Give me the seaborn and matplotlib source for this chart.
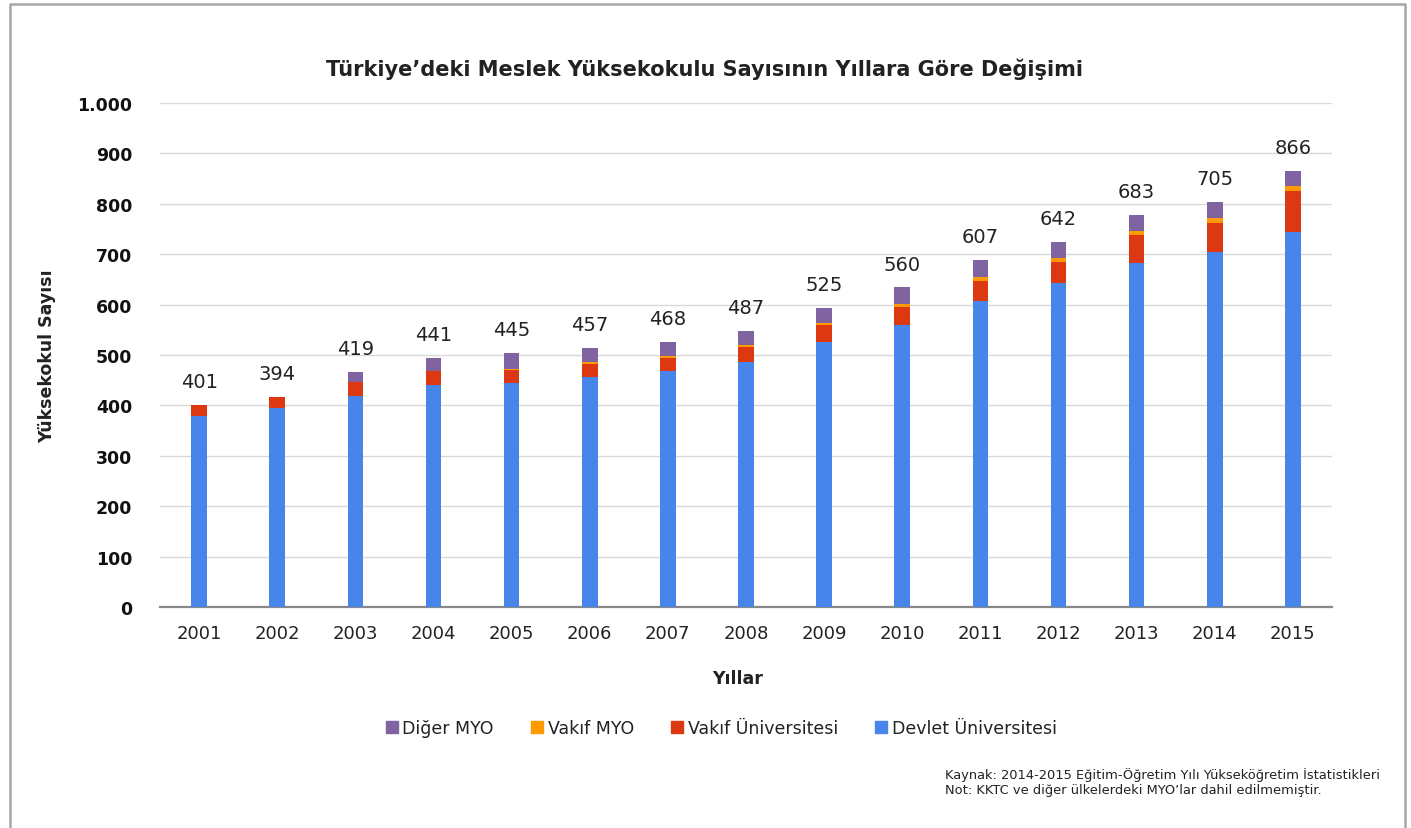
import numpy as np
import pandas as pd
import matplotlib
matplotlib.use("Agg")
import matplotlib.pyplot as plt
import seaborn as sns
from matplotlib.lines import Line2D
from matplotlib.ticker import FuncFormatter

# values
years = ["2001", "2002", "2003", "2004", "2005", "2006", "2007", "2008",
         "2009", "2010", "2011", "2012", "2013", "2014", "2015"]
devlet_uni = [379, 394, 419, 441, 445, 457, 468, 487, 525, 560, 607, 642, 683, 705, 744]
vakif_uni = [22, 23, 28, 27, 25, 25, 26, 29, 34, 36, 40, 42, 55, 57, 82]
vakif_myo = [0, 0, 0, 1, 3, 4, 4, 3, 4, 6, 8, 9, 8, 9, 9]
diger_myo = [0, 0, 20, 25, 31, 28, 28, 28, 31, 32, 33, 32, 32, 32, 31]
bar_labels = [401, 394, 419, 441, 445, 457, 468, 487, 525, 560, 607, 642, 683, 705, 866]

series = ["Diğer MYO", "Vakıf MYO", "Vakıf Üniversitesi", "Devlet Üniversitesi"]
colors = {"Devlet Üniversitesi": "#4785EA",
          "Vakıf Üniversitesi": "#DC3912",
          "Vakıf MYO": "#FF9900",
          "Diğer MYO": "#8064A2"}

df = pd.DataFrame({"Yıl": years,
                   "Devlet Üniversitesi": devlet_uni,
                   "Vakıf Üniversitesi": vakif_uni,
                   "Vakıf MYO": vakif_myo,
                   "Diğer MYO": diger_myo})
# cumulative heights for stacking (bottom to top)
stack_order = ["Devlet Üniversitesi", "Vakıf Üniversitesi", "Vakıf MYO", "Diğer MYO"]
cum = df[stack_order].cumsum(axis=1)

sns.set_theme(style="white")
plt.rcParams['font.family'] = ['DejaVu Sans']

fig = plt.figure(figsize=(14.11, 8.29), dpi=100)
ax = fig.add_axes([160 / 1411, 1 - 608 / 829, (1332 - 160) / 1411, (608 - 104) / 829])

# draw tallest first so lower segments overlay
for name in series:
    sns.barplot(x=df["Yıl"], y=cum[name], color=colors[name], width=0.2,
                saturation=1, linewidth=0, ax=ax, zorder=3)

totals = cum["Diğer MYO"].values
for i, (t, lab) in enumerate(zip(totals, bar_labels)):
    ax.annotate(str(lab), (i, t), xytext=(0, 10), textcoords="offset points",
                ha="center", va="bottom", fontsize=14, color="#222222")

ax.set_ylim(0, 1000)
ax.set_xlim(-0.5, len(years) - 0.5)
ax.set_yticks(np.arange(0, 1001, 100))
ax.yaxis.set_major_formatter(FuncFormatter(lambda v, p: f"{int(v):,}".replace(",", ".")))
ax.tick_params(axis="y", length=0, pad=20, labelsize=12.5, labelcolor="#111111")
for t in ax.get_yticklabels():
    t.set_fontweight("bold")
ax.grid(axis="y", color="#d9d9d9", linewidth=1, zorder=0)
ax.set_axisbelow(True)

# category boundary ticks, labels centred under bars
ax.set_xticks(np.arange(-0.5, len(years), 1.0))
ax.set_xticklabels([])
ax.set_xticks(np.arange(len(years)), minor=True)
ax.set_xticklabels(years, minor=True)
ax.tick_params(axis="x", which="major", length=7, width=1.2, color="#888888", direction="out")
ax.tick_params(axis="x", which="minor", length=0, pad=12, labelsize=13, labelcolor="#222222")
ax.set_xlabel("")
ax.set_ylabel("")

for s in ["top", "right", "left"]:
    ax.spines[s].set_visible(False)
ax.spines["bottom"].set_color("#888888")
ax.spines["bottom"].set_linewidth(1.6)

fig.text(705 / 1411, 1 - 69 / 829, "Türkiye’deki Meslek Yüksekokulu Sayısının Yıllara Göre Değişimi",
         ha="center", va="center", fontsize=15, fontweight="bold", color="#222222")
fig.text(738 / 1411, 1 - 679 / 829, "Yıllar", ha="center", va="center",
         fontsize=12.5, fontweight="bold", color="#222222")
fig.text(47 / 1411, 1 - 356 / 829, "Yüksekokul Sayısı", ha="center", va="center",
         rotation=90, fontsize=12.5, fontweight="bold", color="#222222")

handles = [Line2D([0], [0], marker="s", linestyle="none", markersize=9,
                  markerfacecolor=colors[n], markeredgecolor=colors[n]) for n in series]
fig.legend(handles, series, loc="center", bbox_to_anchor=(720 / 1411, 1 - 729 / 829),
           ncol=4, frameon=False, fontsize=12.5, handletextpad=0.1, columnspacing=2.0,
           handlelength=1.0, labelcolor="#222222")

fig.text(945 / 1411, 1 - 775 / 829, "Kaynak: 2014-2015 Eğitim-Öğretim Yılı Yükseköğretim İstatistikleri",
         ha="left", va="center", fontsize=9.4, color="#222222")
fig.text(945 / 1411, 1 - 791 / 829, "Not: KKTC ve diğer ülkelerdeki MYO’lar dahil edilmemiştir.",
         ha="left", va="center", fontsize=9.4, color="#222222")

# outer frame (open at the bottom)
fig.add_artist(Line2D([10 / 1411, 10 / 1411, 1405 / 1411, 1405 / 1411],
                      [0, 1 - 5 / 829, 1 - 5 / 829, 0],
                      transform=fig.transFigure, color="#a6a6a6", linewidth=1.8))

fig.savefig("out.png", dpi=100)
